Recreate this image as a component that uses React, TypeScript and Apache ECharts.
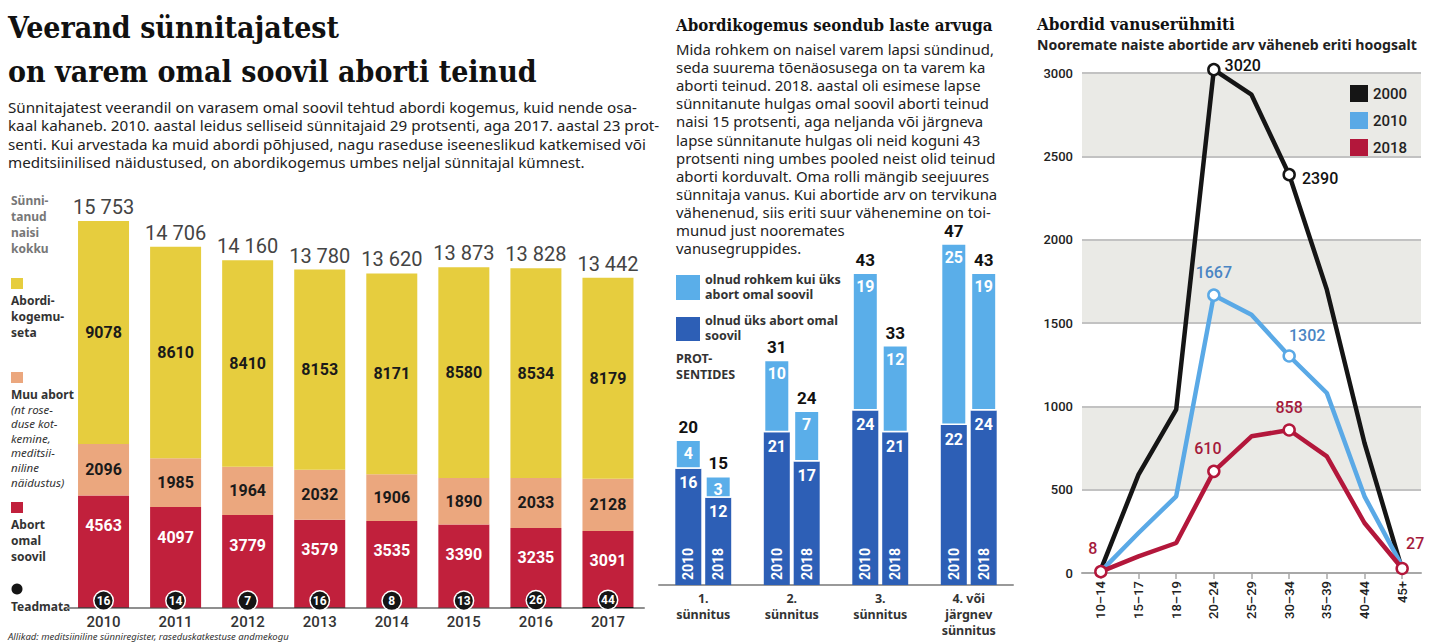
import React, { useEffect, useRef } from 'react';
import * as echarts from 'echarts';

// ---- Left chart: births by abortion experience ----
const years = ['2010', '2011', '2012', '2013', '2014', '2015', '2016', '2017'];
const ownWish = [4563, 4097, 3779, 3579, 3535, 3390, 3235, 3091];
const otherAbortion = [2096, 1985, 1964, 2032, 1906, 1890, 2033, 2128];
const noAbortion = [9078, 8610, 8410, 8153, 8171, 8580, 8534, 8179];
const unknown = [16, 14, 7, 16, 8, 13, 26, 44];
const totalWomen = [15753, 14706, 14160, 13780, 13620, 13873, 13828, 13442];

// ---- Middle chart: share by birth order (percent) ----
const birthOrders = ['1.\nsünnitus', '2.\nsünnitus', '3.\nsünnitus', '4. või\njärgnev\nsünnitus'];
const once2010 = [16, 21, 24, 22];
const more2010 = [4, 10, 19, 25];
const total2010 = [20, 31, 43, 47];
const once2018 = [12, 17, 21, 24];
const more2018 = [3, 7, 12, 19];
const total2018 = [15, 24, 33, 43];

// ---- Right chart: abortions by age group ----
const ageGroups = ['10–14', '15–17', '18–19', '20–24', '25–29', '30–34', '35–39', '40–44', '45+'];
const ab2000 = [20, 590, 980, 3020, 2870, 2390, 1700, 780, 20];
const ab2010 = [10, 240, 460, 1667, 1550, 1302, 1080, 460, 40];
const ab2018 = [8, 100, 180, 610, 820, 858, 700, 300, 27];
const yTicks = { min: 0, max: 3000, interval: 500 };

const C = {
  yellow: '#e6cd3e',
  orange: '#eba77e',
  red: '#c1203c',
  black: '#151515',
  light: '#5aaee9',
  dark: '#2d5fb6',
  l2000: '#151515',
  l2010: '#5aa9e6',
  l2018: '#b3173b',
};

const SANS = '"Noto Sans", "Open Sans", sans-serif';
const NUM = 'Roboto, "Noto Sans", sans-serif';
const SERIF = '"DejaVu Serif Condensed", "DejaVu Serif", serif';

function fmtThousands(v: number) {
  return String(v).replace(/\B(?=(\d{3})+(?!\d))/g, ' ');
}

function lines(x: number, y0: number, lh: number, arr: string[], style: any) {
  return arr.map((t, i) => ({
    type: 'text',
    x,
    y: y0 + i * lh,
    silent: true,
    style: { text: t, fill: '#222', verticalAlign: 'middle', align: 'left', ...style },
  }));
}

function lineData(vals: number[], color: string, marks: Record<number, any>) {
  return vals.map((v, i) => {
    const m = marks[i];
    if (!m) return { value: v };
    return {
      value: v,
      symbol: 'circle',
      symbolSize: 11,
      itemStyle: { color: '#fff', borderColor: color, borderWidth: 2.5 },
      label: {
        show: true,
        fontFamily: NUM,
        fontSize: 16,
        fontWeight: 500,
        color: m.color,
        position: m.position,
        distance: m.distance ?? 5,
        offset: m.offset ?? [0, 0],
      },
    };
  });
}

export default function App() {
  const ref = useRef<HTMLDivElement>(null);
  useEffect(() => {
    if (!ref.current) return;
    const chart = echarts.init(ref.current, undefined, { renderer: 'svg' });

    const leftTextStyle = { fontFamily: SANS, fontSize: 12, fontWeight: 'bold', fill: '#333' };

    const graphic: any[] = [
      // Left title & text
      ...lines(8, 27, 44, ['Veerand sünnitajatest', 'on varem omal soovil aborti teinud'], {
        fontFamily: SERIF, fontSize: 30, fontWeight: 'bold', fill: '#111',
      }),
      ...lines(8, 107, 18.3, [
        'Sünnitajatest veerandil on varasem omal soovil tehtud abordi kogemus, kuid nende osa-',
        'kaal kahaneb. 2010. aastal leidus selliseid sünnitajaid 29 protsenti, aga 2017. aastal 23 prot-',
        'senti. Kui arvestada ka muid abordi põhjused, nagu raseduse iseeneslikud katkemised või',
        'meditsiinilised näidustused, on abordikogemus umbes neljal sünnitajal kümnest.',
      ], { fontFamily: SANS, fontSize: 15.2, fill: '#222' }),
      // Left legend
      ...lines(11, 200, 16, ['Sünni-', 'tanud', 'naisi', 'kokku'], { ...leftTextStyle, fill: '#777' }),
      { type: 'rect', shape: { x: 11, y: 278, width: 12, height: 11 }, style: { fill: C.yellow } },
      ...lines(11, 300, 16, ['Abordi-', 'kogemu-', 'seta'], leftTextStyle),
      { type: 'rect', shape: { x: 11, y: 372, width: 12, height: 11 }, style: { fill: C.orange } },
      ...lines(11, 394, 16, ['Muu abort'], leftTextStyle),
      ...lines(11, 409, 14.6, ['(nt rose-', 'duse kot-', 'kemine,', 'meditsii-', 'niline', 'näidustus)'], {
        fontFamily: SANS, fontSize: 11.5, fontStyle: 'italic', fill: '#333',
      }),
      { type: 'rect', shape: { x: 11, y: 502, width: 12, height: 11 }, style: { fill: C.red } },
      ...lines(11, 524, 16, ['Abort', 'omal', 'soovil'], leftTextStyle),
      { type: 'circle', shape: { cx: 17, cy: 589, r: 5.5 }, style: { fill: C.black } },
      ...lines(11, 606, 16, ['Teadmata'], leftTextStyle),
      ...lines(8, 636, 12, ['Allikad: meditsiiniline sünniregister, raseduskatkestuse andmekogu'], {
        fontFamily: SANS, fontSize: 9.5, fontStyle: 'italic', fill: '#333',
      }),
      // Middle title & text
      ...lines(676, 25, 18, ['Abordikogemus seondub laste arvuga'], {
        fontFamily: SERIF, fontSize: 16.7, fontWeight: 'bold', fill: '#111',
      }),
      ...lines(676, 49, 18.1, [
        'Mida rohkem on naisel varem lapsi sündinud,',
        'seda suurema tõenäosusega on ta varem ka',
        'aborti teinud. 2018. aastal oli esimese lapse',
        'sünnitanute hulgas omal soovil aborti teinud',
        'naisi 15 protsenti, aga neljanda või järgneva',
        'lapse sünnitanute hulgas oli neid koguni 43',
        'protsenti ning umbes pooled neist olid teinud',
        'aborti korduvalt. Oma rolli mängib seejuures',
        'sünnitaja vanus. Kui abortide arv on tervikuna',
        'vähenenud, siis eriti suur vähenemine on toi-',
        'munud just nooremates',
        'vanusegruppides.',
      ], { fontFamily: SANS, fontSize: 14.9, fill: '#222' }),
      { type: 'rect', shape: { x: 676, y: 275, width: 24, height: 25 }, style: { fill: C.light } },
      ...lines(705, 279, 15.5, ['olnud rohkem kui üks', 'abort omal soovil'], { ...leftTextStyle, fontSize: 12.5 }),
      { type: 'rect', shape: { x: 676, y: 317, width: 24, height: 24 }, style: { fill: C.dark } },
      ...lines(705, 320, 15.5, ['olnud üks abort omal', 'soovil'], { ...leftTextStyle, fontSize: 12.5 }),
      ...lines(676, 358, 16, ['PROT-', 'SENTIDES'], { ...leftTextStyle, fontSize: 12.5 }),
      // Right title
      ...lines(1037, 24, 18, ['Abordid vanuserühmiti'], {
        fontFamily: SERIF, fontSize: 17, fontWeight: 'bold', fill: '#111',
      }),
      ...lines(1037, 44, 18, ['Nooremate naiste abortide arv väheneb eriti hoogsalt'], {
        fontFamily: SANS, fontSize: 14.1, fontWeight: 'bold', fill: '#222',
      }),
    ];

    const barLabel = (color: string, position: string, distance: number) => ({
      show: true, position, distance, color, fontFamily: NUM, fontSize: 16, fontWeight: 'bold',
    });

    const midCommon = { type: 'bar', xAxisIndex: 1, yAxisIndex: 1, barWidth: 26, barGap: '15%' };
    const midYear = (stack: string, year: string) => ({
      ...midCommon, name: 'y' + year, stack, data: birthOrders.map(() => 0),
      itemStyle: { color: C.dark },
      label: {
        show: true, position: 'insideBottom', distance: 5, rotate: 90, align: 'left', verticalAlign: 'middle',
        formatter: year, color: '#fff', fontFamily: NUM, fontSize: 14, fontWeight: 'bold',
      },
      z: 4,
    });
    const midTotal = (stack: string, totals: number[]) => ({
      ...midCommon, name: 't' + stack, stack, data: birthOrders.map(() => 0),
      itemStyle: { color: 'transparent' },
      label: {
        show: true, position: 'top', distance: 4, color: '#111', fontFamily: NUM, fontSize: 17, fontWeight: 'bold',
        formatter: (p: any) => String(totals[p.dataIndex]),
      },
    });

    const option: any = {
      animation: false,
      backgroundColor: '#fff',
      graphic,
      legend: {
        data: ['2000', '2010', '2018'],
        orient: 'vertical',
        left: 1345,
        top: 80,
        icon: 'rect',
        itemWidth: 18,
        itemHeight: 17,
        itemGap: 10,
        itemStyle: { borderWidth: 0 },
        textStyle: { fontFamily: NUM, fontSize: 15, color: '#222', fontWeight: 500 },
        selectedMode: false,
      },
      grid: [
        { left: 67.5, top: 215, width: 576.5, height: 393 },
        { left: 659, top: 221.5, width: 354, height: 363.5 },
        { left: 1082, top: 73, width: 339, height: 500 },
      ],
      xAxis: [
        {
          gridIndex: 0, type: 'category', data: years,
          axisLine: { lineStyle: { color: '#8f8f8f', width: 2 } },
          axisTick: { show: false },
          axisLabel: { color: '#333', fontFamily: NUM, fontSize: 15, fontWeight: 500, margin: 6 },
        },
        {
          gridIndex: 1, type: 'category', data: birthOrders,
          axisLine: { lineStyle: { color: '#999', width: 2 } },
          axisTick: { show: false },
          axisLabel: { color: '#333', fontFamily: SANS, fontSize: 12.5, fontWeight: 'bold', lineHeight: 16, margin: 5 },
        },
        {
          gridIndex: 2, type: 'category', data: ageGroups, boundaryGap: true,
          axisLine: { lineStyle: { color: '#a8a8a8', width: 2 } },
          axisTick: { show: true, alignWithLabel: true, length: 6, lineStyle: { color: '#a8a8a8', width: 1.5 } },
          axisLabel: { rotate: 90, color: '#222', fontFamily: NUM, fontSize: 13, fontWeight: 500, margin: 8 },
        },
      ],
      yAxis: [
        { gridIndex: 0, type: 'value', min: 0, max: 16000, show: false },
        { gridIndex: 1, type: 'value', min: 0, max: 50, show: false },
        {
          gridIndex: 2, type: 'value', min: yTicks.min, max: yTicks.max, interval: yTicks.interval,
          axisLine: { show: false }, axisTick: { show: false },
          axisLabel: {
            color: '#222', fontFamily: NUM, fontSize: 13, fontWeight: 500, margin: 9,
            formatter: (v: number) => String(v),
          },
          splitLine: { lineStyle: { color: '#c2c2c2', width: 2 } },
          splitArea: { show: true, areaStyle: { color: ['#ffffff', '#eaeae6'] } },
        },
      ],
      series: [
        // left stacked bars
        {
          type: 'bar', name: 'Teadmata', stack: 'births', xAxisIndex: 0, yAxisIndex: 0, barWidth: 51,
          data: unknown, itemStyle: { color: C.black }, z: 5,
          label: {
            show: true, position: 'top', distance: -2, formatter: '{c}',
            color: '#fff', fontFamily: NUM, fontSize: 12, fontWeight: 'bold',
            backgroundColor: C.black, borderColor: '#fff', borderWidth: 1.5, borderRadius: 10,
            width: 18, height: 18, lineHeight: 18, align: 'center', padding: 0,
          },
        },
        {
          type: 'bar', name: 'Abort omal soovil', stack: 'births', xAxisIndex: 0, yAxisIndex: 0, barWidth: 51,
          data: ownWish, itemStyle: { color: C.red }, label: barLabel('#fff', 'insideTop', 22),
        },
        {
          type: 'bar', name: 'Muu abort', stack: 'births', xAxisIndex: 0, yAxisIndex: 0, barWidth: 51,
          data: otherAbortion, itemStyle: { color: C.orange }, label: barLabel('#1a1a1a', 'inside', 0),
        },
        {
          type: 'bar', name: 'Abordikogemuseta', stack: 'births', xAxisIndex: 0, yAxisIndex: 0, barWidth: 51,
          data: noAbortion, itemStyle: { color: C.yellow }, label: barLabel('#1a1a1a', 'inside', 0),
        },
        {
          type: 'bar', name: 'Sünnitanud naisi kokku', stack: 'births', xAxisIndex: 0, yAxisIndex: 0, barWidth: 51,
          data: years.map(() => 0), itemStyle: { color: 'transparent' },
          label: {
            show: true, position: 'top', distance: 4, color: '#444', fontFamily: NUM, fontSize: 20,
            formatter: (p: any) => fmtThousands(totalWomen[p.dataIndex]),
          },
        },
        // middle bars
        midYear('a', '2010'),
        {
          ...midCommon, name: 'once2010', stack: 'a', data: once2010, itemStyle: { color: C.dark },
          label: barLabel('#fff', 'insideTop', 6),
        },
        {
          ...midCommon, name: 'more2010', stack: 'a', data: more2010,
          itemStyle: { color: C.light, borderColor: '#fff', borderWidth: 1.5 },
          label: barLabel('#fff', 'insideTop', 6),
        },
        midTotal('a', total2010),
        midYear('b', '2018'),
        {
          ...midCommon, name: 'once2018', stack: 'b', data: once2018, itemStyle: { color: C.dark },
          label: barLabel('#fff', 'insideTop', 6),
        },
        {
          ...midCommon, name: 'more2018', stack: 'b', data: more2018,
          itemStyle: { color: C.light, borderColor: '#fff', borderWidth: 1.5 },
          label: barLabel('#fff', 'insideTop', 6),
        },
        midTotal('b', total2018),
        // right lines
        {
          type: 'line', name: '2000', xAxisIndex: 2, yAxisIndex: 2, color: C.l2000, symbol: 'none', clip: false,
          lineStyle: { width: 4.5, color: C.l2000 }, z: 3,
          data: lineData(ab2000, C.l2000, {
            3: { color: '#111', position: 'right', distance: 4, offset: [0, -4] },
            5: { color: '#111', position: 'right', distance: 6, offset: [0, 4] },
          }),
        },
        {
          type: 'line', name: '2010', xAxisIndex: 2, yAxisIndex: 2, color: C.l2010, symbol: 'none', clip: false,
          lineStyle: { width: 4.5, color: C.l2010 }, z: 4,
          data: lineData(ab2010, C.l2010, {
            3: { color: '#4a85c3', position: 'top', distance: 8 },
            5: { color: '#4a85c3', position: 'top', distance: 6, offset: [18, 0] },
          }),
        },
        {
          type: 'line', name: '2018', xAxisIndex: 2, yAxisIndex: 2, color: C.l2018, symbol: 'none', clip: false,
          lineStyle: { width: 4.5, color: C.l2018 }, z: 5,
          data: lineData(ab2018, C.l2018, {
            0: { color: '#a51a3c', position: 'top', distance: 8, offset: [-8, 0] },
            3: { color: '#a51a3c', position: 'top', distance: 8, offset: [-6, 0] },
            5: { color: '#a51a3c', position: 'top', distance: 8 },
            8: { color: '#a51a3c', position: 'top', distance: 10, offset: [13, 0] },
          }),
        },
      ],
    };
    chart.setOption(option);
    return () => chart.dispose();
  }, []);
  return (
    <div
      ref={ref}
      style={{ position: 'absolute', left: 0, top: 0, width: 1442, height: 644, background: '#fff' }}
    />
  );
}
